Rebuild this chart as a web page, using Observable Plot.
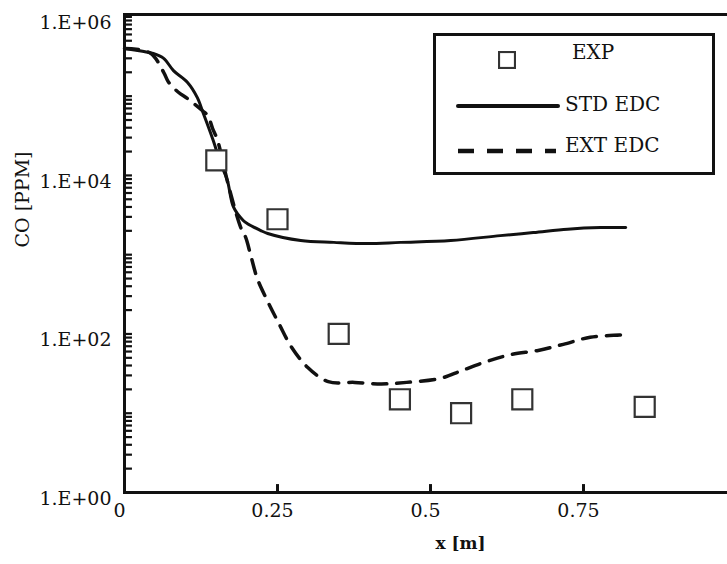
<!DOCTYPE html>
<html>
<head>
<meta charset="utf-8">
<script src="https://cdn.jsdelivr.net/npm/d3@7"></script>
<script src="https://cdn.jsdelivr.net/npm/@observablehq/plot@0.6"></script>
<style>
  html, body { margin: 0; padding: 0; background: #fff; overflow: hidden; width: 727px; height: 564px; }
  #wrap { position: relative; width: 727px; height: 564px; overflow: hidden; }
  #chart { position: absolute; left: 0; top: 0; width: 745px; }
  #chart svg { max-width: none !important; }
  #legend { position: absolute; left: 433px; top: 33px; width: 276px; height: 136px; border: 3px solid #111; box-sizing: content-box; background: #fff;
            font-family: "DejaVu Serif", serif; font-size: 20px; color: #111; }
  #legend .row { position: absolute; left: 0; white-space: nowrap; }
</style>
</head>
<body>
<div id="wrap">
  <div id="chart"></div>
  <div id="legend"></div>
</div>
<script>
// ---- data ----
const xTicks = [0, 0.25, 0.5, 0.75, 1];
const xTickLabels = ["0", "0.25", "0.5", "0.75", "1"];
const yTicks = [1, 100, 1e4, 1e6];
const yTickLabels = ["1.E+00", "1.E+02", "1.E+04", "1.E+06"];

const seriesNames = ["EXP", "STD EDC", "EXT EDC"];

const expX = [0.15, 0.25, 0.35, 0.45, 0.55, 0.65, 0.85];
const expCO = [15500, 2800, 100, 15, 10, 15, 12];

const stdX = [0, 0.047, 0.064, 0.080, 0.103, 0.119, 0.129, 0.145, 0.157, 0.168, 0.178, 0.194, 0.201, 0.222, 0.234, 0.288, 0.342, 0.397, 0.451, 0.533, 0.614, 0.668, 0.724, 0.778, 0.819];
const stdCO = [4.0e5, 3.45e5, 3.0e5, 2.1e5, 1.49e5, 9.6e4, 6.0e4, 2.75e4, 1.42e4, 8.7e3, 4.0e3, 2.7e3, 2.46e3, 2.03e3, 1.85e3, 1.51e3, 1.43e3, 1.38e3, 1.43e3, 1.51e3, 1.74e3, 1.9e3, 2.1e3, 2.2e3, 2.2e3];

const extX = [0, 0.042, 0.064, 0.072, 0.088, 0.103, 0.127, 0.136, 0.144, 0.152, 0.170, 0.190, 0.198, 0.206, 0.217, 0.234, 0.253, 0.273, 0.299, 0.333, 0.376, 0.420, 0.461, 0.516, 0.551, 0.592, 0.632, 0.676, 0.717, 0.761, 0.809, 0.819];
const extCO = [4.0e5, 3.5e5, 2.0e5, 1.5e5, 1.12e5, 9.3e4, 6.6e4, 5.7e4, 3.9e4, 2.77e4, 7.4e3, 2.2e3, 1.65e3, 1.0e3, 500, 257, 132, 68, 38, 25, 24.5, 23.4, 24.5, 27.5, 34.5, 45, 55, 62, 74, 91, 97, 98];

// ---- build tables ----
const exp = expX.map((x, i) => ({x, y: expCO[i]}));
const std = stdX.map((x, i) => ({x, y: stdCO[i]}));
const ext = extX.map((x, i) => ({x, y: extCO[i]}));
const minorY = [];
for (let d = 0; d < 6; d++) for (let k = 1; k <= 9; k++) minorY.push(k * Math.pow(10, d));
minorY.push(1e6);
const innerX = [0.25, 0.5, 0.75];
const yLabelTable = yTicks.map((v, i) => ({y: v, label: yTickLabels[i]}));
const xLabelTable = xTicks.map((v, i) => ({x: v, label: xTickLabels[i]}));

const font = "DejaVu Serif, serif";
const plot = Plot.plot({
  width: 745,
  height: 564,
  marginLeft: 124,
  marginRight: 9,
  marginTop: 14,
  marginBottom: 72,
  style: {fontFamily: font, fontSize: "19px", color: "#111", background: "transparent", maxWidth: "none"},
  x: {domain: [0, 1], axis: null},
  y: {type: "log", domain: [1, Math.pow(10, 6.03)], axis: null},
  marks: [
    // inner y ticks
    Plot.ruleY(minorY, {y: d => d, x1: 0, x2: 0.013, stroke: "#111", strokeWidth: 2.2}),
    // inner x ticks
    Plot.ruleX(innerX, {x: d => d, y1: 1, y2: Math.pow(10, 0.1), stroke: "#111", strokeWidth: 3}),
    // tick labels
    Plot.text(xLabelTable, {x: "x", text: "label", frameAnchor: "bottom", lineAnchor: "top", dy: 11, dx: -5, fontSize: 19, fill: "#111"}),
    Plot.text(yLabelTable, {y: "y", text: "label", frameAnchor: "left", textAnchor: "end", dx: -13, dy: 6, fontSize: 19, fill: "#111"}),
    Plot.line(std, {x: "x", y: "y", curve: "catmull-rom", stroke: "#111", strokeWidth: 3}),
    Plot.line(ext, {x: "x", y: "y", curve: "catmull-rom", stroke: "#111", strokeWidth: 3.5, strokeDasharray: "14,10"}),
    Plot.dot(exp, {x: "x", y: "y", symbol: "square", r: 11.3, fill: "#fff", stroke: "#333", strokeWidth: 2.2}),
    Plot.frame({stroke: "#111", strokeWidth: 3}),
    Plot.text(["x [m]"], {frameAnchor: "bottom", dx: 30, dy: 56, fontWeight: "bold", fontSize: 17, fill: "#111"}),
    Plot.text(["CO [PPM]"], {frameAnchor: "left", rotate: -90, dx: -102, dy: -6, fontSize: 19, fill: "#111"})
  ]
});
document.getElementById("chart").appendChild(plot);

// ---- legend (HTML overlay) ----
const legend = document.getElementById("legend");
legend.innerHTML = `
  <div class="row" style="top:10px;left:62px;">
    <svg width="18" height="18" style="vertical-align:middle"><rect x="1" y="1" width="16" height="16" fill="#fff" stroke="#333" stroke-width="2.2"/></svg>
  </div>
  <div class="row" style="top:4px;left:136px;">${seriesNames[0]}</div>
  <div class="row" style="top:55px;left:20px;"><svg width="104" height="8"><line x1="2" y1="4" x2="102" y2="4" stroke="#111" stroke-width="4" stroke-linecap="round"/></svg></div>
  <div class="row" style="top:56px;left:129px;">${seriesNames[1]}</div>
  <div class="row" style="top:100px;left:20px;"><svg width="104" height="8"><line x1="2" y1="4" x2="100" y2="4" stroke="#111" stroke-width="4.5" stroke-dasharray="16,13"/></svg></div>
  <div class="row" style="top:97px;left:129px;">${seriesNames[2]}</div>
`;
</script>
</body>
</html>
